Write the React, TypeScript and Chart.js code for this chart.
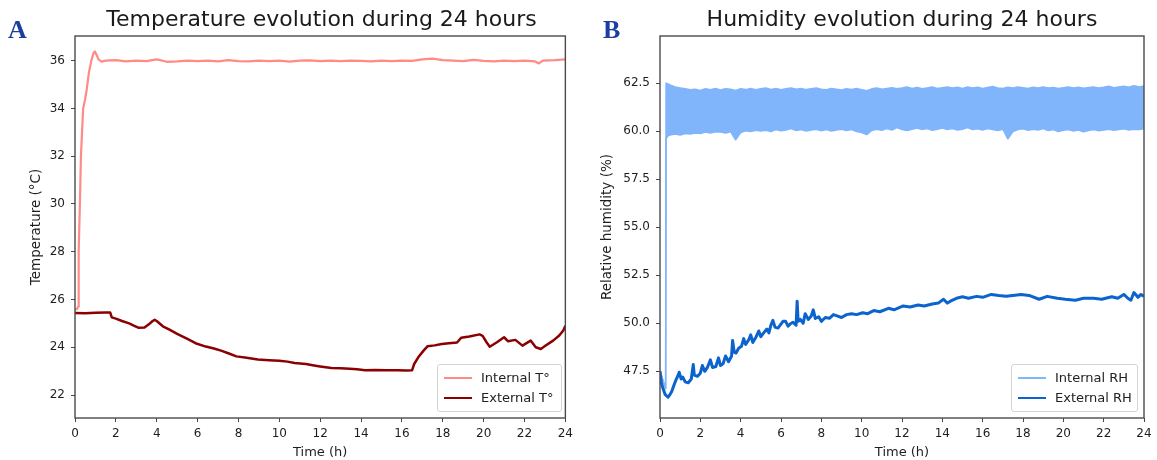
import React, { useEffect, useRef } from "react";
import { Chart, registerables } from "chart.js";

Chart.register(...registerables);

// ---------- Axis ticks ----------
const HOUR_TICKS = [0, 2, 4, 6, 8, 10, 12, 14, 16, 18, 20, 22, 24];
const TEMP_TICKS = [22, 24, 26, 28, 30, 32, 34, 36];
const RH_TICKS = [47.5, 50, 52.5, 55, 57.5, 60, 62.5];

// ---------- Panel A: temperature ----------
const T_IN_HOURS = [
  0, 0.1, 0.15, 0.17, 0.19, 0.24, 0.29, 0.4, 0.49, 0.57, 0.68, 0.8, 0.9, 0.97, 1.05, 1.15, 1.3, 1.5,
  2, 2.5, 3, 3.5, 4, 4.5, 5, 5.5, 6, 6.5, 7, 7.5, 8, 8.5, 9, 9.5, 10, 10.5, 11, 11.5, 12, 12.5,
  13, 13.5, 14, 14.5, 15, 15.5, 16, 16.5, 17, 17.5, 18, 18.5, 19, 19.5, 20, 20.5, 21, 21.5, 22,
  22.5, 22.7, 22.9, 23.5, 24,
];
const T_IN_VALUES = [
  25.6, 25.6, 25.7, 26.5, 28.0, 30.0, 32.0, 34.0, 34.35, 34.77, 35.5, 36.0, 36.3, 36.38, 36.25, 36.05, 35.96, 36.0,
  36.02, 35.97, 36.0, 35.98, 36.05, 35.95, 35.97, 36.0, 35.98, 36.0, 35.97, 36.02, 35.98, 35.97, 36.0, 35.98, 36.0, 35.96, 36.0, 36.01, 35.98, 36.0,
  35.98, 36.0, 35.99, 35.97, 36.0, 35.98, 36.0, 35.99, 36.05, 36.08, 36.02, 36.0, 35.98, 36.03, 35.99, 35.97, 36.0, 35.98, 36.0,
  35.97, 35.88, 36.0, 36.02, 36.05,
];

const T_EX_HOURS = [
  0, 0.5, 1.0, 1.5, 1.72, 1.8, 2.0, 2.3, 2.65, 2.9, 3.1, 3.4, 3.6, 3.8, 3.9, 4.0, 4.3, 4.6, 5.0, 5.5,
  5.9, 6.4, 6.8, 7.15, 7.5, 7.9, 8.4, 8.95, 9.5, 10.0, 10.4, 10.75, 11.3, 11.7, 12.0, 12.55, 13.0, 13.45,
  13.8, 14.2, 14.7, 15.25, 15.8, 16.2, 16.5, 16.6, 16.8, 17.06, 17.25, 17.6, 17.95, 18.3, 18.7, 18.9,
  19.3, 19.8, 19.95, 20.15, 20.3, 20.65, 21.0, 21.2, 21.55, 21.9, 22.3, 22.55, 22.8, 23.0, 23.4, 23.7,
  23.9, 24.0,
];
const T_EX_VALUES = [
  25.44, 25.42, 25.45, 25.46, 25.46, 25.25, 25.2, 25.1, 25.0, 24.9, 24.82, 24.83, 24.95, 25.1, 25.15, 25.1, 24.88, 24.75, 24.56, 24.35,
  24.17, 24.03, 23.95, 23.86, 23.75, 23.62, 23.56, 23.49, 23.46, 23.44, 23.4, 23.34, 23.3, 23.24, 23.2, 23.13, 23.12, 23.1,
  23.08, 23.04, 23.05, 23.04, 23.04, 23.03, 23.04, 23.3, 23.58, 23.86, 24.04, 24.08, 24.14, 24.17, 24.2, 24.4,
  24.45, 24.54, 24.48, 24.2, 24.02, 24.21, 24.42, 24.25, 24.31, 24.07, 24.28, 24.0, 23.93, 24.05, 24.28, 24.49,
  24.7, 24.9,
];

// ---------- Panel B: humidity ----------
const RH_BAND_HOURS = [
  0, 0.28, 0.3, 0.4,
  0.5, 0.75, 1, 1.25, 1.5, 1.75, 2, 2.25, 2.5, 2.75, 3, 3.25, 3.5, 3.75, 4, 4.25, 4.5, 4.75,
  5, 5.25, 5.5, 5.75, 6, 6.25, 6.5, 6.75, 7, 7.25, 7.5, 7.75, 8, 8.25, 8.5, 8.75, 9, 9.25, 9.5, 9.75,
  10, 10.25, 10.5, 10.75, 11, 11.25, 11.5, 11.75, 12, 12.25, 12.5, 12.75, 13, 13.25, 13.5, 13.75,
  14, 14.25, 14.5, 14.75, 15, 15.25, 15.5, 15.75, 16, 16.25, 16.5, 16.75, 17, 17.25, 17.5, 17.75,
  18, 18.25, 18.5, 18.75, 19, 19.25, 19.5, 19.75, 20, 20.25, 20.5, 20.75, 21, 21.25, 21.5, 21.75,
  22, 22.25, 22.5, 22.75, 23, 23.25, 23.5, 23.75, 24,
];
const RH_IN_UPPER = [
  47.5, 46.6, 62.5, 62.45,
  62.4, 62.3, 62.25, 62.2, 62.15, 62.18, 62.12, 62.2, 62.15, 62.22, 62.14, 62.2, 62.18, 62.12, 62.2, 62.16, 62.22, 62.15,
  62.2, 62.24, 62.17, 62.22, 62.15, 62.2, 62.25, 62.18, 62.22, 62.16, 62.2, 62.24, 62.18, 62.15, 62.22, 62.18, 62.14, 62.2, 62.17, 62.22,
  62.16, 62.1, 62.2, 62.25, 62.18, 62.22, 62.26, 62.2, 62.24, 62.3, 62.22, 62.27, 62.2, 62.25, 62.3, 62.22,
  62.26, 62.3, 62.24, 62.28, 62.22, 62.3, 62.25, 62.28, 62.22, 62.27, 62.32, 62.25, 62.22, 62.28, 62.24, 62.3,
  62.26, 62.22, 62.28, 62.25, 62.3, 62.24, 62.27, 62.22, 62.26, 62.3, 62.25, 62.28, 62.23, 62.27, 62.3, 62.25,
  62.28, 62.33, 62.26, 62.3, 62.34, 62.28, 62.36, 62.3, 62.35,
];
const RH_IN_LOWER = [
  47.5, 46.6, 59.6, 59.75,
  59.8, 59.85, 59.8, 59.88, 59.85, 59.9, 59.88, 59.95, 59.9, 59.97, 59.95, 59.9, 59.97, 59.55, 59.92, 60.02, 59.98, 60.05,
  60.0, 60.04, 59.98, 60.08, 60.02, 60.06, 60.13, 60.03, 60.08, 60.0, 60.06, 60.1, 60.02, 60.08, 60.01, 60.06, 60.1, 60.03, 60.08, 59.98,
  59.93, 59.82, 60.03, 60.1, 60.04, 60.13, 60.06, 60.18, 60.08, 60.03, 60.1, 60.16, 60.08, 60.13, 60.04, 60.1,
  60.16, 60.08, 60.13, 60.06, 60.1, 60.18, 60.08, 60.12, 60.06, 60.14, 60.08, 60.03, 60.1, 59.6, 59.98, 60.08,
  60.12, 60.04, 60.1, 60.06, 60.13, 60.03, 60.08, 59.98, 60.04, 60.08, 60.0, 60.06, 59.96, 60.03, 60.08, 60.02,
  60.06, 60.1, 60.04, 60.08, 60.12, 60.06, 60.1, 60.08, 60.13,
];

const RH_EX_HOURS = [
  0, 0.07, 0.15, 0.25, 0.4, 0.5, 0.58, 0.7, 0.8, 0.9, 0.95, 1.05, 1.13, 1.25, 1.4, 1.55, 1.65, 1.7, 1.86, 2.0,
  2.1, 2.22, 2.35, 2.5, 2.6, 2.77, 2.9, 3.0, 3.13, 3.25, 3.4, 3.55, 3.6, 3.68, 3.77, 3.9, 4.04, 4.15, 4.25, 4.4,
  4.5, 4.6, 4.77, 4.9, 5.0, 5.14, 5.3, 5.4, 5.5, 5.6, 5.7, 5.85, 5.96, 6.1, 6.23, 6.35, 6.5, 6.6, 6.75, 6.8,
  6.85, 6.96, 7.1, 7.2, 7.35, 7.5, 7.6, 7.7, 7.87, 8.0, 8.2, 8.4, 8.6, 8.78, 9.0, 9.25, 9.5, 9.75, 10.05, 10.3,
  10.6, 10.9, 11.33, 11.6, 12.06, 12.4, 12.8, 13.1, 13.5, 13.8, 14.06, 14.25, 14.4, 14.7, 15.0, 15.3, 15.7, 16.0,
  16.43, 16.8, 17.16, 17.5, 17.9, 18.3, 18.8, 19.2, 19.7, 20.1, 20.6, 21.0, 21.5, 21.9, 22.4, 22.7, 23.0, 23.2,
  23.35, 23.5, 23.7, 23.85, 24.0,
];
const RH_EX_VALUES = [
  47.5, 46.9, 46.6, 46.3, 46.15, 46.3, 46.45, 46.8, 47.07, 47.3, 47.45, 47.1, 47.2, 46.95, 46.9, 47.1, 47.85, 47.3, 47.24, 47.4,
  47.8, 47.5, 47.7, 48.1, 47.7, 47.75, 48.2, 47.8, 47.9, 48.3, 48.0, 48.3, 49.1, 48.5, 48.45, 48.7, 48.8, 49.2, 48.9, 49.14,
  49.4, 49.0, 49.3, 49.6, 49.3, 49.5, 49.7, 49.5, 49.9, 50.15, 49.8, 49.75, 49.9, 50.1, 50.1, 49.85, 50.0, 50.05, 49.9, 51.15,
  50.1, 50.2, 50.0, 50.5, 50.2, 50.38, 50.7, 50.25, 50.34, 50.1, 50.3, 50.26, 50.45, 50.38, 50.3, 50.45, 50.5, 50.45, 50.55, 50.5,
  50.66, 50.6, 50.78, 50.7, 50.9, 50.85, 50.95, 50.9, 51.0, 51.05, 51.25, 51.05, 51.15, 51.3, 51.38, 51.3, 51.4, 51.35,
  51.5, 51.45, 51.41, 51.45, 51.5, 51.45, 51.25, 51.4, 51.3, 51.25, 51.2, 51.3, 51.3, 51.25, 51.38, 51.3, 51.5, 51.3,
  51.2, 51.6, 51.35, 51.5, 51.4,
];

// ---------- Styles ----------
const FONT = '"DejaVu Sans", "Noto Sans", sans-serif';
const C_T_IN = "#ff8a86";
const C_T_EX = "#8b0000";
const C_RH_IN = "#80b4fb";
const C_RH_EX = "#0b63ce";

function pts(h: number[], v: number[]) {
  const n = Math.min(h.length, v.length);
  const out: { x: number; y: number }[] = [];
  for (let i = 0; i < n; i++) out.push({ x: h[i], y: v[i] });
  return out;
}

const framePlugin = {
  id: "frame",
  afterDatasetsDraw(chart: any) {
    const { ctx, chartArea: a } = chart;
    ctx.save();
    ctx.strokeStyle = "#4a4a4a";
    ctx.lineWidth = 1.4;
    ctx.strokeRect(a.left, a.top, a.right - a.left, a.bottom - a.top);
    ctx.restore();
  },
};

function makeOptions(
  yMin: number,
  yMax: number,
  yTicks: number[],
  yTitle: string,
  yWidth: number,
  yTitlePad: number,
  padRight: number,
  decimals: number
) {
  return {
    animation: false,
    responsive: false,
    events: [],
    layout: { padding: { left: 0, right: padRight, top: 36, bottom: 0 } },
    plugins: {
      legend: { display: false },
      tooltip: { enabled: false },
      title: { display: false },
    },
    elements: {
      point: { radius: 0 },
      line: { tension: 0, borderJoinStyle: "round", borderCapStyle: "butt" },
    },
    scales: {
      x: {
        type: "linear",
        min: 0,
        max: 24,
        afterBuildTicks: (s: any) => {
          s.ticks = HOUR_TICKS.map((v) => ({ value: v }));
        },
        afterFit: (s: any) => {
          s.height = 42;
        },
        ticks: {
          font: { family: FONT, size: 12 },
          color: "#1e1e1e",
          padding: 5,
          maxRotation: 0,
          autoSkip: false,
          callback: (v: any) => String(v),
        },
        grid: { display: true, drawOnChartArea: false, drawTicks: true, tickLength: 4, color: "#444", lineWidth: 1 },
        border: { display: false },
        title: {
          display: true,
          text: "Time (h)",
          font: { family: FONT, size: 13 },
          color: "#1e1e1e",
          padding: { top: 0, bottom: 0 },
        },
      },
      y: {
        type: "linear",
        min: yMin,
        max: yMax,
        afterBuildTicks: (s: any) => {
          s.ticks = yTicks.map((v) => ({ value: v }));
        },
        afterFit: (s: any) => {
          s.width = yWidth;
        },
        ticks: {
          font: { family: FONT, size: 12 },
          color: "#1e1e1e",
          padding: 6,
          autoSkip: false,
          callback: (v: any) => Number(v).toFixed(decimals),
        },
        grid: { display: true, drawOnChartArea: false, drawTicks: true, tickLength: 4, color: "#444", lineWidth: 1 },
        border: { display: false },
        title: {
          display: true,
          text: yTitle,
          font: { family: FONT, size: 13.5 },
          color: "#1e1e1e",
          padding: { top: yTitlePad, bottom: 0 },
        },
      },
    },
  } as any;
}

function useChart(ref: React.RefObject<HTMLCanvasElement>, build: () => any) {
  useEffect(() => {
    if (!ref.current) return;
    const chart = new Chart(ref.current, build());
    return () => chart.destroy();
  }, []);
}

function Legend(props: { left: number; top: number; width: number; items: { label: string; color: string; lw: number }[] }) {
  const { left, top, width, items } = props;
  return (
    <div
      style={{
        position: "absolute",
        left,
        top,
        width,
        height: 48,
        boxSizing: "border-box",
        border: "1px solid #d4d4d4",
        borderRadius: 3,
        background: "rgba(255,255,255,0.85)",
      }}
    >
      {items.map((it, i) => (
        <React.Fragment key={it.label}>
          <div
            style={{
              position: "absolute",
              left: 6,
              width: 28,
              top: 13 + i * 20 - it.lw / 2,
              height: it.lw,
              background: it.color,
            }}
          />
          <div
            style={{
              position: "absolute",
              left: 43,
              top: 13 + i * 20 - 8,
              height: 16,
              lineHeight: "16px",
              fontFamily: FONT,
              fontSize: 13,
              color: "#222",
              whiteSpace: "nowrap",
            }}
          >
            {it.label}
          </div>
        </React.Fragment>
      ))}
    </div>
  );
}

export default function App() {
  const refA = useRef<HTMLCanvasElement>(null);
  const refB = useRef<HTMLCanvasElement>(null);

  useChart(refA, () => ({
    type: "line",
    data: {
      datasets: [
        {
          label: "External T°",
          data: pts(T_EX_HOURS, T_EX_VALUES),
          borderColor: C_T_EX,
          backgroundColor: C_T_EX,
          borderWidth: 2.5,
          fill: false,
        },
        {
          label: "Internal T°",
          data: pts(T_IN_HOURS, T_IN_VALUES),
          borderColor: C_T_IN,
          backgroundColor: C_T_IN,
          borderWidth: 2.2,
          fill: false,
        },
      ],
    },
    options: makeOptions(21.04, 37.03, TEMP_TICKS, "Temperature (°C)", 75, 28, 10, 0),
    plugins: [framePlugin],
  }));

  useChart(refB, () => ({
    type: "line",
    data: {
      datasets: [
        {
          label: "External RH",
          data: pts(RH_EX_HOURS, RH_EX_VALUES),
          borderColor: C_RH_EX,
          backgroundColor: C_RH_EX,
          borderWidth: 3,
          fill: false,
        },
        {
          label: "Internal RH",
          data: pts(RH_BAND_HOURS, RH_IN_UPPER),
          borderColor: C_RH_IN,
          backgroundColor: C_RH_IN,
          borderWidth: 1.5,
          fill: "+1",
        },
        {
          label: "Internal RH (lower)",
          data: pts(RH_BAND_HOURS, RH_IN_LOWER),
          borderColor: C_RH_IN,
          backgroundColor: C_RH_IN,
          borderWidth: 1.5,
          fill: false,
        },
      ],
    },
    options: makeOptions(45.07, 64.95, RH_TICKS, "Relative humidity (%)", 82, 21, 13, 1),
    plugins: [framePlugin],
  }));

  const panelLabel = (text: string, left: number) => (
    <div
      style={{
        position: "absolute",
        left,
        top: 17,
        lineHeight: "26px",
        fontFamily: '"Liberation Serif", "Times New Roman", serif',
        fontWeight: "bold",
        fontSize: 26,
        color: "#1b3fa0",
      }}
    >
      {text}
    </div>
  );

  const title = (text: string, left: number, width: number) => (
    <div
      style={{
        position: "absolute",
        left,
        width,
        top: 8,
        lineHeight: "22px",
        textAlign: "center",
        fontFamily: FONT,
        fontSize: 22,
        color: "#1a1a1a",
        whiteSpace: "nowrap",
      }}
    >
      {text}
    </div>
  );

  return (
    <div style={{ position: "absolute", left: 0, top: 0, width: 1157, height: 460, background: "#fff", overflow: "hidden" }}>
      <canvas ref={refA} width={578} height={460} style={{ position: "absolute", left: 0, top: 0 }} />
      <canvas ref={refB} width={579} height={460} style={{ position: "absolute", left: 578, top: 0 }} />
      {panelLabel("A", 8)}
      {panelLabel("B", 603)}
      {title("Temperature evolution during 24 hours", 75, 493)}
      {title("Humidity evolution during 24 hours", 660, 484)}
      <Legend
        left={437}
        top={364}
        width={125}
        items={[
          { label: "Internal T°", color: C_T_IN, lw: 2.2 },
          { label: "External T°", color: C_T_EX, lw: 2.8 },
        ]}
      />
      <Legend
        left={1011}
        top={364}
        width={127}
        items={[
          { label: "Internal RH", color: C_RH_IN, lw: 2 },
          { label: "External RH", color: C_RH_EX, lw: 2.8 },
        ]}
      />
    </div>
  );
}
